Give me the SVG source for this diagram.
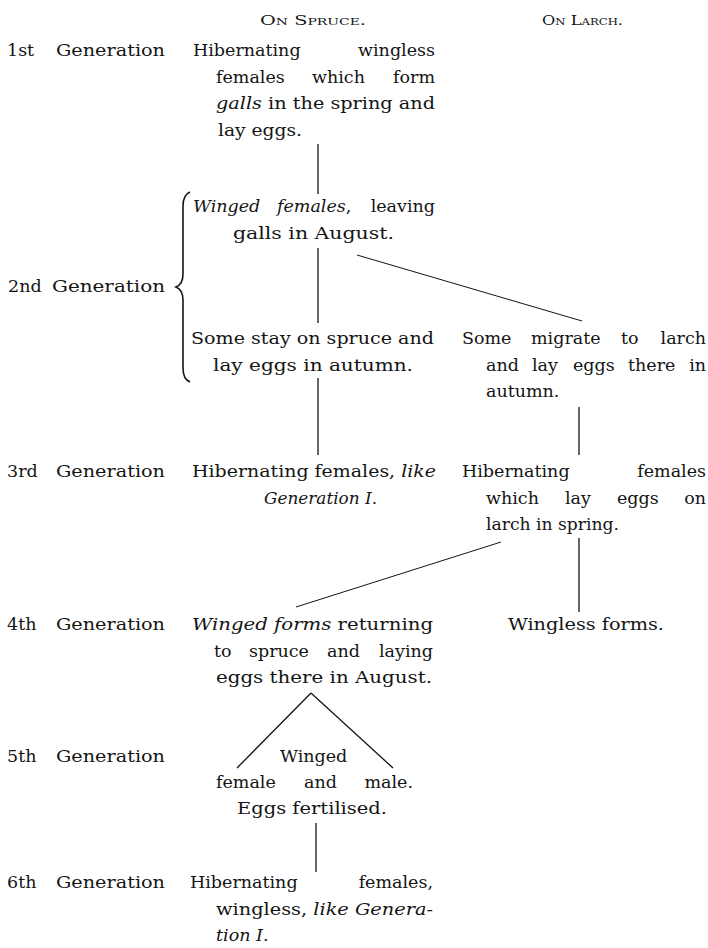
<svg xmlns="http://www.w3.org/2000/svg" width="708" height="948" viewBox="0 0 708 948">
<style>
text{font-family:"DejaVu Serif","Liberation Serif",serif;font-size:17.5px;fill:#141414}
.hd{font-size:12.5px;font-variant:small-caps}
.i{font-style:italic}
.e{text-anchor:end}
.c{stroke:#141414;stroke-width:1.3;fill:none}
.d{stroke:#141414;stroke-width:1;fill:none}
.br{stroke:#141414;stroke-width:1.6;fill:none}
</style>
<rect width="708" height="948" fill="#fff"/>
<g id="headers">
<text class="hd" x="260" y="25" textLength="106" lengthAdjust="spacingAndGlyphs">On Spruce.</text>
<text class="hd" x="542" y="25" textLength="81" lengthAdjust="spacingAndGlyphs">On Larch.</text>
</g>
<g id="labels">
<text x="7" y="56">1st</text>
<text x="56" y="56" textLength="109" lengthAdjust="spacingAndGlyphs">Generation</text>
<text x="8" y="292">2nd</text>
<text x="52" y="292" textLength="113" lengthAdjust="spacingAndGlyphs">Generation</text>
<text x="7" y="477">3rd</text>
<text x="56" y="477" textLength="109" lengthAdjust="spacingAndGlyphs">Generation</text>
<text x="7" y="630">4th</text>
<text x="56" y="630" textLength="109" lengthAdjust="spacingAndGlyphs">Generation</text>
<text x="7" y="762">5th</text>
<text x="56" y="762" textLength="109" lengthAdjust="spacingAndGlyphs">Generation</text>
<text x="7" y="888">6th</text>
<text x="56" y="888" textLength="109" lengthAdjust="spacingAndGlyphs">Generation</text>
</g>
<g id="gen1">
<text x="193" y="56">Hibernating</text>
<text x="435" y="56" class="e">wingless</text>
<text x="216" y="82.5">females</text>
<text x="312" y="82.5">which</text>
<text x="435" y="82.5" class="e">form</text>
<text x="216" y="109" textLength="219" lengthAdjust="spacingAndGlyphs"><tspan class="i">galls</tspan> in the spring and</text>
<text x="218" y="135.5" textLength="84" lengthAdjust="spacingAndGlyphs">lay eggs.</text>
</g>
<g id="gen2-winged">
<text x="193" y="212" class="i">Winged</text>
<text x="277" y="212"><tspan class="i">females</tspan>,</text>
<text x="435" y="212" class="e">leaving</text>
<text x="233" y="238.5" textLength="161" lengthAdjust="spacingAndGlyphs">galls in August.</text>
</g>
<g id="gen2-spruce">
<text x="191" y="344" textLength="243" lengthAdjust="spacingAndGlyphs">Some stay on spruce and</text>
<text x="213" y="370.5" textLength="200" lengthAdjust="spacingAndGlyphs">lay eggs in autumn.</text>
</g>
<g id="gen2-larch">
<text x="462" y="344">Some</text>
<text x="531" y="344">migrate</text>
<text x="621" y="344">to</text>
<text x="706" y="344" class="e">larch</text>
<text x="486" y="370.5">and</text>
<text x="532" y="370.5">lay</text>
<text x="573" y="370.5">eggs</text>
<text x="628" y="370.5">there</text>
<text x="706" y="370.5" class="e">in</text>
<text x="486" y="397">autumn.</text>
</g>
<g id="gen3-spruce">
<text x="192" y="477" textLength="244" lengthAdjust="spacingAndGlyphs">Hibernating females, <tspan class="i">like</tspan></text>
<text x="264" y="503.5" textLength="113" lengthAdjust="spacingAndGlyphs" class="i">Generation I.</text>
</g>
<g id="gen3-larch">
<text x="462" y="477">Hibernating</text>
<text x="706" y="477" class="e">females</text>
<text x="486" y="503.5">which</text>
<text x="565" y="503.5">lay</text>
<text x="617" y="503.5">eggs</text>
<text x="706" y="503.5" class="e">on</text>
<text x="486" y="530" textLength="133" lengthAdjust="spacingAndGlyphs">larch in spring.</text>
</g>
<g id="gen4-spruce">
<text x="192" y="630" textLength="241" lengthAdjust="spacingAndGlyphs"><tspan class="i">Winged forms</tspan> returning</text>
<text x="214" y="656.5">to</text>
<text x="249" y="656.5">spruce</text>
<text x="327" y="656.5">and</text>
<text x="433" y="656.5" class="e">laying</text>
<text x="216" y="683" textLength="216" lengthAdjust="spacingAndGlyphs">eggs there in August.</text>
</g>
<g id="gen4-larch">
<text x="508" y="630" textLength="156" lengthAdjust="spacingAndGlyphs">Wingless forms.</text>
</g>
<g id="gen5">
<text x="280" y="762">Winged</text>
<text x="216" y="788">female</text>
<text x="304" y="788">and</text>
<text x="413" y="788" class="e">male.</text>
<text x="237" y="814" textLength="150" lengthAdjust="spacingAndGlyphs">Eggs fertilised.</text>
</g>
<g id="gen6">
<text x="190" y="888">Hibernating</text>
<text x="433" y="888" class="e">females,</text>
<text x="216" y="914.5" textLength="217" lengthAdjust="spacingAndGlyphs">wingless, <tspan class="i">like Genera-</tspan></text>
<text x="216" y="941" class="i">tion I.</text>
</g>
<g id="connectors">
<line class="c" x1="318" y1="144" x2="318" y2="194"/>
<line class="c" x1="318" y1="248" x2="318" y2="323"/>
<line class="d" x1="357" y1="255" x2="582" y2="321"/>
<line class="c" x1="318" y1="378" x2="318" y2="455"/>
<line class="c" x1="579" y1="407" x2="579" y2="455"/>
<line class="d" x1="501" y1="542" x2="296" y2="607"/>
<line class="c" x1="579" y1="538" x2="579" y2="612"/>
<line class="c" x1="311" y1="693" x2="237" y2="768"/>
<line class="c" x1="311" y1="693" x2="393" y2="768"/>
<line class="c" x1="316" y1="823" x2="316" y2="872"/>
<path class="br" d="M190,192 C185,194 183,198 183,206 L183,274 C183,281 181,285 176,287 C181,289 183,293 183,300 L183,368 C183,376 185,380 190,382"/>
</g>
</svg>
